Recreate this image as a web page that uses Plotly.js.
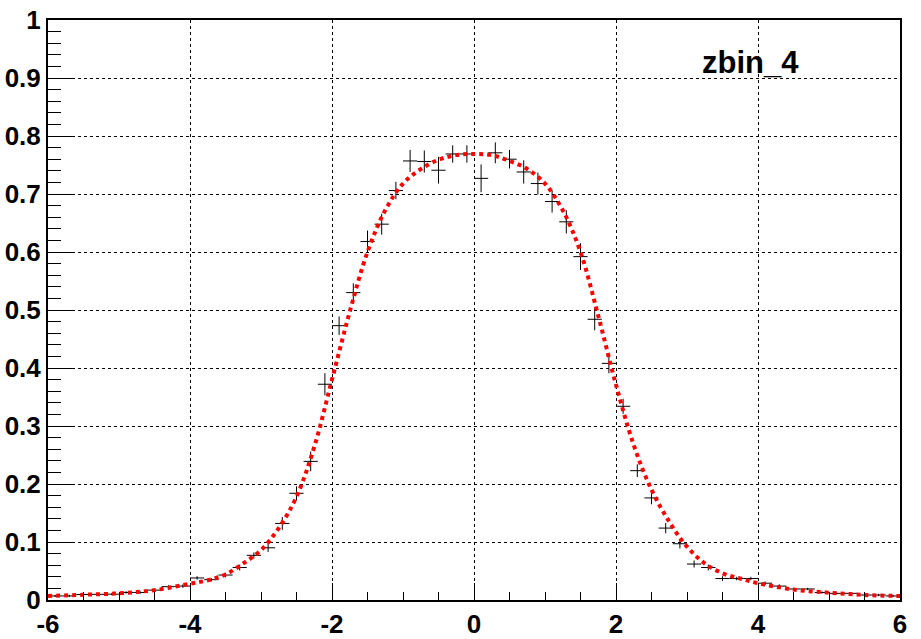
<!DOCTYPE html>
<html>
<head>
<meta charset="utf-8">
<script src="https://cdn.plot.ly/plotly-3.0.1.min.js"></script>
<style>html,body{margin:0;padding:0;background:#fff;}#chart{width:921px;height:639px;}</style>
</head>
<body>
<div id="chart"></div>
<script>
// Histogram bin centres (width 0.2) and contents
const binCenters = [-5.9,-5.7,-5.5,-5.3,-5.1,-4.9,-4.7,-4.5,-4.3,-4.1,-3.9,-3.7,-3.5,-3.3,-3.1,-2.9,-2.7,-2.5,-2.3,-2.1,-1.9,-1.7,-1.5,-1.3,-1.1,-0.9,-0.7,-0.5,-0.3,-0.1,0.1,0.3,0.5,0.7,0.9,1.1,1.3,1.5,1.7,1.9,2.1,2.3,2.5,2.7,2.9,3.1,3.3,3.5,3.7,3.9,4.1,4.3,4.5,4.7,4.9,5.1,5.3,5.5,5.7,5.9];
const binValues = [0.007,0.007,0.0095,0.0098,0.010,0.013,0.013,0.017,0.023,0.024,0.038,0.035,0.043,0.056,0.077,0.090,0.132,0.184,0.239,0.372,0.473,0.530,0.618,0.648,0.706,0.757,0.756,0.741,0.769,0.769,0.727,0.771,0.760,0.738,0.718,0.687,0.652,0.592,0.484,0.408,0.334,0.223,0.176,0.124,0.097,0.062,0.056,0.037,0.037,0.037,0.029,0.024,0.019,0.019,0.013,0.0115,0.0115,0.0086,0.0086,0.007];
const binErrors = [0.002,0.002,0.002,0.002,0.002,0.002,0.002,0.003,0.003,0.003,0.003,0.003,0.004,0.005,0.005,0.007,0.011,0.012,0.017,0.019,0.016,0.016,0.019,0.018,0.015,0.019,0.019,0.023,0.015,0.015,0.024,0.018,0.016,0.020,0.019,0.019,0.020,0.023,0.019,0.017,0.013,0.011,0.011,0.009,0.008,0.006,0.005,0.004,0.003,0.003,0.003,0.003,0.002,0.002,0.002,0.002,0.002,0.002,0.002,0.002];
const binHalfWidth = 0.1;

// Fit curve
const fitX = [-6,-5.5,-5,-4.5,-4,-3.75,-3.5,-3.25,-3,-2.75,-2.5,-2.25,-2,-1.75,-1.5,-1.25,-1,-0.75,-0.5,-0.25,0,0.25,0.5,0.75,1,1.25,1.5,1.75,2,2.25,2.5,2.75,3,3.25,3.5,3.75,4,4.5,5,5.5,6];
const fitY = [0.007,0.009,0.0115,0.017,0.028,0.034,0.044,0.063,0.086,0.124,0.178,0.264,0.380,0.497,0.600,0.672,0.718,0.743,0.759,0.767,0.769,0.767,0.757,0.743,0.718,0.672,0.600,0.490,0.371,0.267,0.190,0.135,0.092,0.063,0.046,0.037,0.029,0.018,0.0126,0.0086,0.007];

// Axis tick labels
const xTickVals = [-6,-4,-2,0,2,4,6];
const xTickText = ['-6','-4','-2','0','2','4','6'];
const yTickVals = [0,0.1,0.2,0.3,0.4,0.5,0.6,0.7,0.8,0.9,1];
const yTickText = ['0','0.1','0.2','0.3','0.4','0.5','0.6','0.7','0.8','0.9','1'];

const titleText = 'zbin_4';

const data = [
  {
    x: binCenters, y: binValues, type: 'scatter', mode: 'markers',
    marker: {size: 1, color: 'rgba(0,0,0,0)'},
    error_y: {type: 'data', array: binErrors, visible: true, color: '#000', thickness: 1, width: 0},
    error_x: {type: 'constant', value: binHalfWidth, visible: true, color: '#000', thickness: 1, width: 0},
    hoverinfo: 'x+y', showlegend: false
  },
  {
    x: fitX, y: fitY, type: 'scatter', mode: 'lines',
    line: {color: '#ff0000', width: 4, dash: '4px,4px', shape: 'spline', smoothing: 1},
    showlegend: false
  }
];

const tickFont = {family: 'Liberation Sans, Arial, sans-serif', size: 26, color: '#000', weight: 'bold'};

const layout = {
  width: 921, height: 639,
  paper_bgcolor: '#fff', plot_bgcolor: '#fff',
  margin: {l: 48, r: 21, t: 20, b: 39, pad: 0},
  showlegend: false,
  xaxis: {
    range: [-6, 6], tickmode: 'array', tickvals: xTickVals, ticktext: xTickText,
    ticks: 'inside', ticklen: 17, tickcolor: '#000', tickwidth: 1,
    minor: {dtick: 0.5, tick0: 0, ticks: 'inside', ticklen: 8, tickcolor: '#000', showgrid: false},
    showgrid: true, gridcolor: '#000', gridwidth: 1, griddash: 'dot',
    zeroline: false, showline: true, linecolor: '#000', linewidth: 2, mirror: true,
    tickfont: tickFont, automargin: false, fixedrange: true
  },
  yaxis: {
    range: [0, 1], tickmode: 'array', tickvals: yTickVals, ticktext: yTickText,
    ticks: 'inside', ticklen: 25, tickcolor: '#000', tickwidth: 1,
    minor: {dtick: 0.02, tick0: 0, ticks: 'inside', ticklen: 13, tickcolor: '#000', showgrid: false},
    showgrid: true, gridcolor: '#000', gridwidth: 1, griddash: 'dot',
    zeroline: false, showline: true, linecolor: '#000', linewidth: 2, mirror: true,
    tickfont: tickFont, automargin: false, fixedrange: true
  },
  annotations: [{
    text: titleText, xref: 'paper', yref: 'paper', x: 0.824, y: 0.927,
    xanchor: 'center', yanchor: 'middle', showarrow: false,
    font: {family: 'Liberation Sans, Arial, sans-serif', size: 31, color: '#000', weight: 'bold'}
  }]
};

Plotly.newPlot('chart', data, layout, {displayModeBar: false, staticPlot: true});
</script>
</body>
</html>
